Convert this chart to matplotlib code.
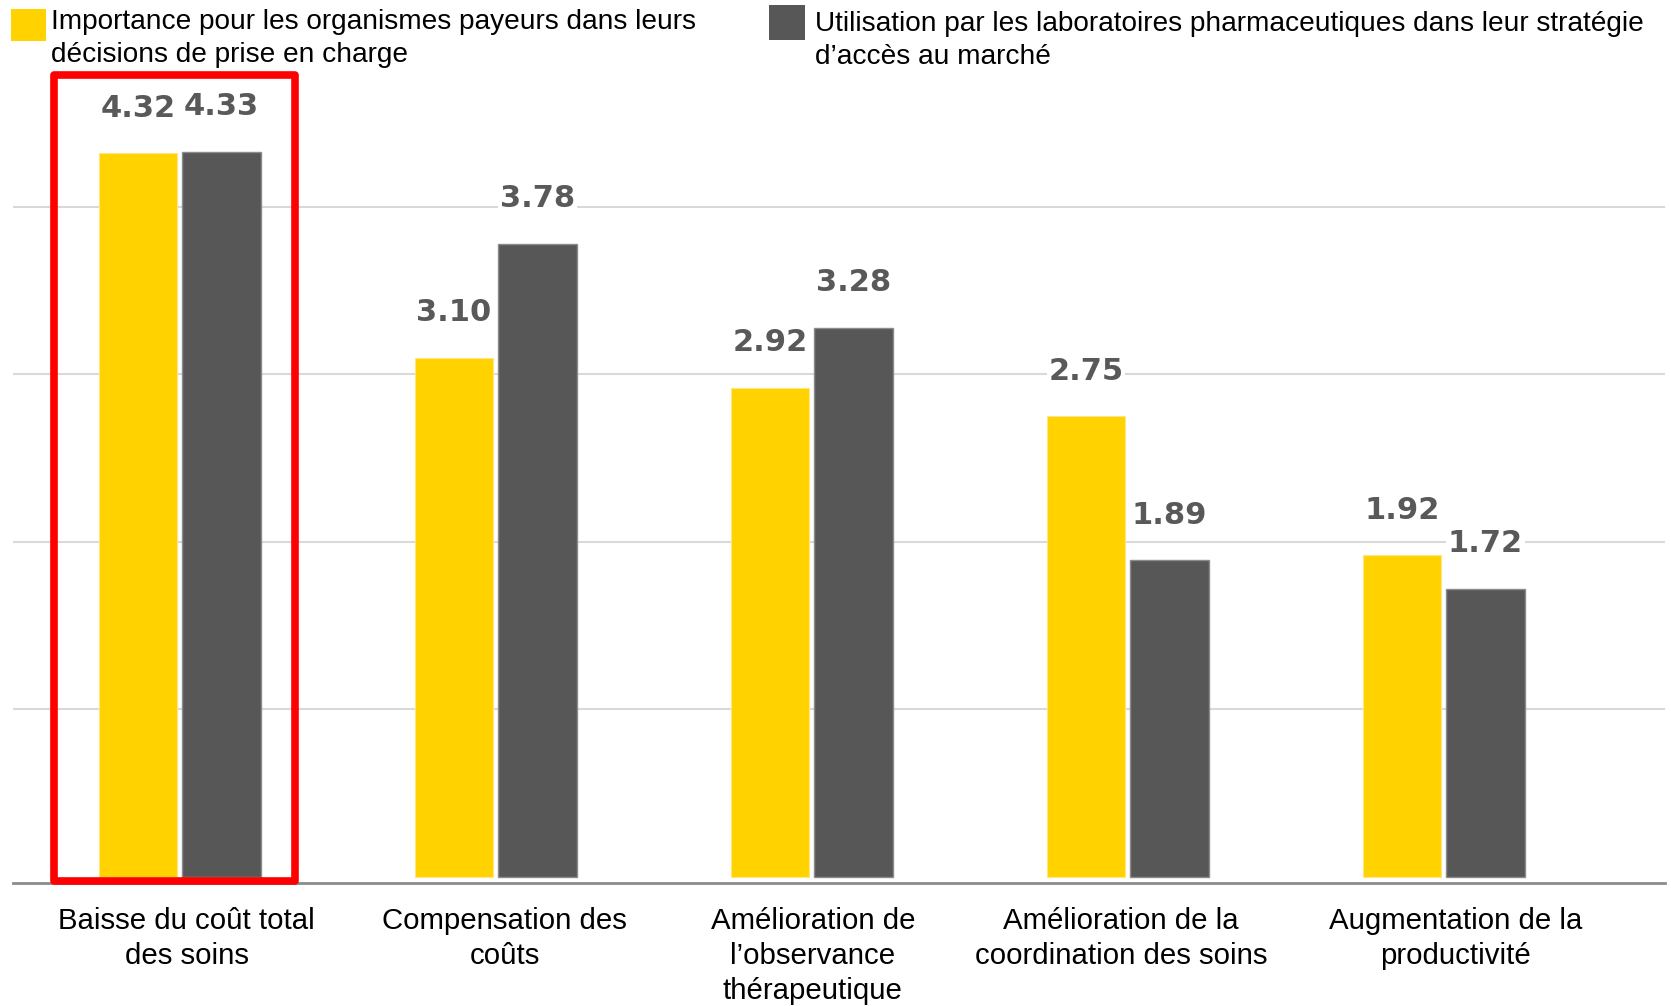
import matplotlib.pyplot as plt
import matplotlib.transforms as mtransforms
from matplotlib.patches import Rectangle

# Data
categories = ['Baisse du coût total\ndes soins',
              'Compensation des\ncoûts',
              'Amélioration de\nl\u2019observance\nthérapeutique',
              'Amélioration de la\ncoordination des soins',
              'Augmentation de la\nproductivité']
payeurs = [4.32, 3.10, 2.92, 2.75, 1.92]
labos = [4.33, 3.78, 3.28, 1.89, 1.72]
legend_labels = ['Importance pour les organismes payeurs dans leurs\ndécisions de prise en charge',
                 'Utilisation par les laboratoires pharmaceutiques dans leur stratégie\nd\u2019accès au marché']

yellow = '#FFD200'
gray = '#575757'

W, H = 1671, 1006
fig = plt.figure(figsize=(W / 100, H / 100), dpi=100)
ax = fig.add_axes([13 / W, (H - 883) / H, (1665 - 13) / W, (883 - 70) / H])

x = list(range(len(categories)))
off = 0.132
w = 0.248
b1 = ax.bar([i - off for i in x], payeurs, w, color=yellow, edgecolor='#FFE680', linewidth=0.8, zorder=3)
b2 = ax.bar([i + off for i in x], labos, w, color=gray, edgecolor='#8C8C8C', linewidth=1, zorder=3)

# value labels
for bars, vals in [(b1, payeurs), (b2, labos)]:
    for r, v in zip(bars, vals):
        ax.annotate(f'{v:.2f}', (r.get_x() + r.get_width() / 2, v),
                    xytext=(0, 22), textcoords='offset points',
                    ha='center', va='bottom', fontsize=22, fontweight='bold',
                    color='#595959', family='DejaVu Sans', zorder=4,
                    bbox=dict(facecolor='white', edgecolor='none', pad=1))

ax.set_xlim(-0.528, 4.70)
ax.set_ylim(-0.036, 4.818)
ax.set_yticks([1, 2, 3, 4])
ax.yaxis.grid(True, color='#D9D9D9', linewidth=1.5, zorder=0)
ax.tick_params(axis='y', length=0, labelleft=False)
ax.set_xticks(x)
ax.set_xticklabels(categories, fontsize=21.2, family='Liberation Sans', color='black', linespacing=1.32)
ax.tick_params(axis='x', length=0, pad=17)
# small horizontal nudges of the category labels (pixels)
label_shift = [7, 9, 1, -7, 12]
for lbl, dx in zip(ax.get_xticklabels(), label_shift):
    lbl.set_transform(lbl.get_transform() + mtransforms.Affine2D().translate(dx, 0))
for s in ['top', 'right', 'left']:
    ax.spines[s].set_visible(False)
ax.spines['bottom'].set_color('#8C8C8C')
ax.spines['bottom'].set_linewidth(2)

# red highlight box around first group
ax.add_patch(Rectangle((-0.399, -0.024), 0.762, 4.812, fill=False, edgecolor='#FF0000',
                       linewidth=5.5, joinstyle='round', clip_on=False, zorder=5))

# legend
fig.patches.append(Rectangle((11 / W, 1 - 40.5 / H), 35 / W, 32 / H, transform=fig.transFigure,
                             facecolor=yellow, edgecolor='none'))
fig.patches.append(Rectangle((769 / W, 1 - 40 / H), 36 / W, 35 / H, transform=fig.transFigure,
                             facecolor=gray, edgecolor='none'))
fig.text(51 / W, 1 - 38.5 / H, legend_labels[0], fontsize=20.2, family='Liberation Sans',
         va='center', ha='left', linespacing=1.38)
fig.text(815 / W, 1 - 40.5 / H, legend_labels[1], fontsize=20.2, family='Liberation Sans',
         va='center', ha='left', linespacing=1.38)

fig.savefig('out.png', dpi=100, facecolor='white')
